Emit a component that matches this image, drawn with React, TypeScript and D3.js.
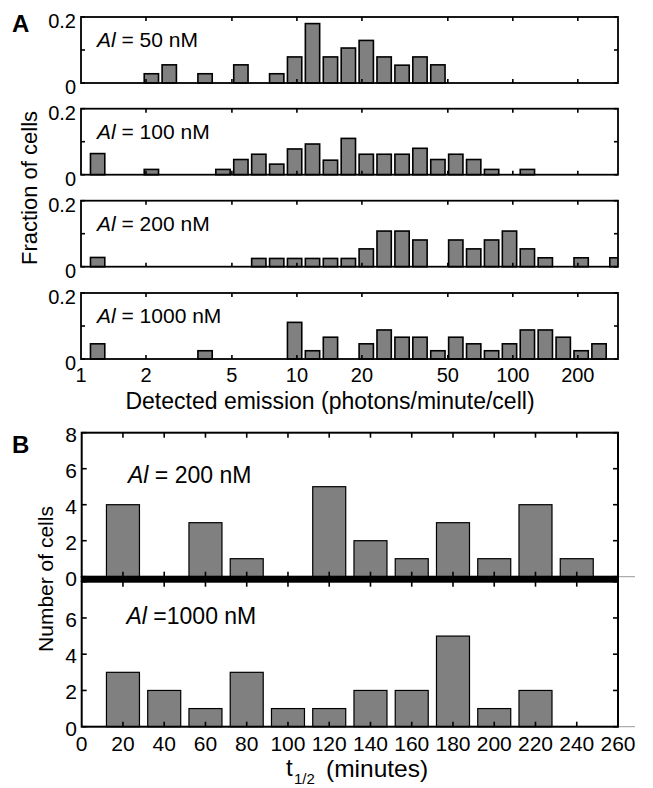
import React from 'react';
import * as d3 from 'd3';

// panel A: log-spaced emission bins (bin centres, photons/minute/cell)
const emissionBins = [
  1.194, 1.445, 1.749, 2.118, 2.563, 3.103, 3.755, 4.546, 5.502, 6.661,
  8.062, 9.757, 11.81, 14.3, 17.31, 20.95, 25.35, 30.69, 37.15, 44.97,
  54.43, 65.88, 79.74, 96.52, 116.8, 141.4, 171.2, 207.2, 250.8, 303.6,
];
const frac50 = [0, 0, 0, 0.028, 0.055, 0, 0.028, 0, 0.055, 0, 0.028, 0.079, 0.18, 0.079, 0.106, 0.129, 0.079, 0.054, 0.079, 0.055, 0, 0, 0, 0, 0, 0, 0, 0, 0, 0];
const frac100 = [0.064, 0, 0, 0.016, 0, 0, 0, 0.016, 0.046, 0.062, 0.032, 0.078, 0.093, 0.044, 0.11, 0.062, 0.062, 0.062, 0.08, 0.046, 0.062, 0.046, 0.016, 0, 0.016, 0, 0, 0, 0, 0];
const frac200 = [0.028, 0, 0, 0, 0, 0, 0, 0, 0, 0.025, 0.025, 0.025, 0.025, 0.025, 0.025, 0.054, 0.108, 0.108, 0.081, 0, 0.081, 0.054, 0.081, 0.108, 0.054, 0.027, 0, 0.027, 0, 0.027];
const frac1000 = [0.046, 0, 0, 0, 0, 0, 0.025, 0, 0, 0, 0, 0.111, 0.025, 0.066, 0, 0.046, 0.088, 0.066, 0.066, 0.025, 0.066, 0.046, 0.025, 0.046, 0.088, 0.088, 0.066, 0.025, 0.046, 0];
const concA = ['50', '100', '200', '1000'];
const emissionTicks = [1, 2, 5, 10, 20, 50, 100, 200];
const fracTicks = [0, 0.1, 0.2];

// panel B: half-life histogram
const halfLifeBins = [20, 40, 60, 80, 100, 120, 140, 160, 180, 200, 220, 240];
const cells200 = [4, 0, 3, 1, 0, 5, 2, 1, 3, 1, 4, 1];
const cells1000 = [3, 2, 1, 3, 1, 1, 2, 2, 5, 1, 2, 0];
const halfLifeTicks = [0, 20, 40, 60, 80, 100, 120, 140, 160, 180, 200, 220, 240, 260];
const countTicks = [0, 2, 4, 6, 8];

const FONT = 'Liberation Sans, Arial, Helvetica, sans-serif';
const BAR = '#808080';

const App = () => {
  // ---- panel A geometry
  const aLeft = 81, aRight = 618, aH = 66;
  const aTops = [17, 108.7, 200.7, 293];
  const xA = d3.scaleLog().domain([1, 307]).range([aLeft, aRight]);
  const binRatio = emissionBins[1] / emissionBins[0];
  const half = Math.pow(binRatio, 0.4);
  const seriesA = [frac50, frac100, frac200, frac1000];

  // ---- panel B geometry
  const bLeft = 81.7, bRight = 618;
  const xB = d3.scaleLinear().domain([0, 260]).range([bLeft, bRight]);
  const bPanels = [
    { top: 432.7, bottom: 576.7, data: cells200, label: ' = 200 nM', lx: 128, ly: 483, yLabels: [0, 2, 4, 6, 8] },
    { top: 581.7, bottom: 726.7, data: cells1000, label: ' =1000 nM', lx: 126.5, ly: 624, yLabels: [0, 2, 4, 6] },
  ];

  return (
    <svg width={653} height={788} style={{ position: 'absolute', left: 0, top: 0, background: '#fff' }} fontFamily={FONT}>
      <defs>
        {aTops.map((t, i) => (
          <clipPath id={`clipA${i}`} key={i}>
            <rect x={aLeft} y={t - 2} width={aRight - aLeft} height={aH + 4} />
          </clipPath>
        ))}
      </defs>

      <text x={12} y={32} fontSize={24} fontWeight="bold">A</text>

      {aTops.map((top, i) => {
        const y = d3.scaleLinear().domain([0, 0.2]).range([top + aH, top]);
        const data = seriesA[i];
        return (
          <g key={i}>
            <g clipPath={`url(#clipA${i})`}>
              {emissionBins.map((c, k) =>
                data[k] > 0 ? (
                  <rect key={k} x={xA(c / half)} y={y(data[k])} width={xA(c * half) - xA(c / half)}
                    height={y(0) - y(data[k])} fill={BAR} stroke="#000" strokeWidth={1.6} />
                ) : null)}
            </g>
            <rect x={aLeft} y={top} width={aRight - aLeft} height={aH} fill="none" stroke="#000" strokeWidth={1.8} />
            {emissionTicks.slice(1).map(t => (
              <g key={t}>
                <line x1={xA(t)} x2={xA(t)} y1={top} y2={top + 4} stroke="#000" strokeWidth={1.6} />
                <line x1={xA(t)} x2={xA(t)} y1={top + aH} y2={top + aH - 4} stroke="#000" strokeWidth={1.6} />
              </g>
            ))}
            {fracTicks.map(t => (
              <g key={t}>
                <line x1={aLeft} x2={aLeft + 4} y1={y(t)} y2={y(t)} stroke="#000" strokeWidth={1.6} />
                <line x1={aRight} x2={aRight - 4} y1={y(t)} y2={y(t)} stroke="#000" strokeWidth={1.6} />
              </g>
            ))}
            <text x={76} y={y(0.2) + 11} fontSize={20} textAnchor="end">0.2</text>
            <text x={76} y={y(0) + 11} fontSize={20} textAnchor="end">0</text>
            <text x={97} y={top + 30} fontSize={21}>
              <tspan fontStyle="italic">Al</tspan>{` = ${concA[i]} nM`}
            </text>
          </g>
        );
      })}

      {emissionTicks.map(t => (
        <text key={t} x={xA(t)} y={382} fontSize={20} textAnchor="middle">{t}</text>
      ))}
      <text x={330} y={409} fontSize={23} textAnchor="middle">Detected emission (photons/minute/cell)</text>
      <text transform="translate(37,188) rotate(-90)" fontSize={22} textAnchor="middle">Fraction of cells</text>

      {/* panel B */}
      <text x={12} y={453} fontSize={24} fontWeight="bold">B</text>
      {bPanels.map((p, i) => {
        const y = d3.scaleLinear().domain([0, 8]).range([p.bottom, p.top]);
        const bw = xB(8) - xB(0);
        return (
          <g key={i}>
            <line x1={bLeft} x2={635} y1={p.bottom} y2={p.bottom} stroke="#999" strokeWidth={1} />
            {halfLifeBins.map((c, k) =>
              p.data[k] > 0 ? (
                <rect key={k} x={xB(c) - bw} y={y(p.data[k])} width={2 * bw} height={y(0) - y(p.data[k])}
                  fill={BAR} stroke="#000" strokeWidth={1.2} />
              ) : null)}
            <rect x={bLeft} y={p.top} width={bRight - bLeft} height={p.bottom - p.top} fill="none" stroke="#000" strokeWidth={2} />
            {halfLifeTicks.slice(1, -1).map(t => (
              <g key={t}>
                <line x1={xB(t)} x2={xB(t)} y1={p.top} y2={p.top + 5} stroke="#000" strokeWidth={1.6} />
                <line x1={xB(t)} x2={xB(t)} y1={p.bottom} y2={p.bottom - 5} stroke="#000" strokeWidth={1.6} />
              </g>
            ))}
            {countTicks.map(t => (
              <g key={t}>
                <line x1={bLeft} x2={bLeft + 5} y1={y(t)} y2={y(t)} stroke="#000" strokeWidth={1.6} />
                <line x1={bRight} x2={bRight - 5} y1={y(t)} y2={y(t)} stroke="#000" strokeWidth={1.6} />
              </g>
            ))}
            {p.yLabels.map(t => (
              <text key={t} x={77} y={y(t) + 9} fontSize={21} textAnchor="end">{t}</text>
            ))}
            <text x={p.lx} y={p.ly} fontSize={23}>
              <tspan fontStyle="italic">Al</tspan>{p.label}
            </text>
          </g>
        );
      })}
      <rect x={bLeft - 1} y={576} width={bRight - bLeft + 2} height={6} fill="#000" />
      {halfLifeTicks.map(t => (
        <text key={t} x={xB(t)} y={751} fontSize={21} textAnchor="middle">{t}</text>
      ))}
      <text x={286} y={776} fontSize={24}>t</text>
      <text x={294} y={784} fontSize={15}>1/2</text>
      <text x={326} y={777} fontSize={24.5}>(minutes)</text>
      <text transform="translate(53,579) rotate(-90)" fontSize={21} textAnchor="middle">Number of cells</text>
    </svg>
  );
};

export default App;
